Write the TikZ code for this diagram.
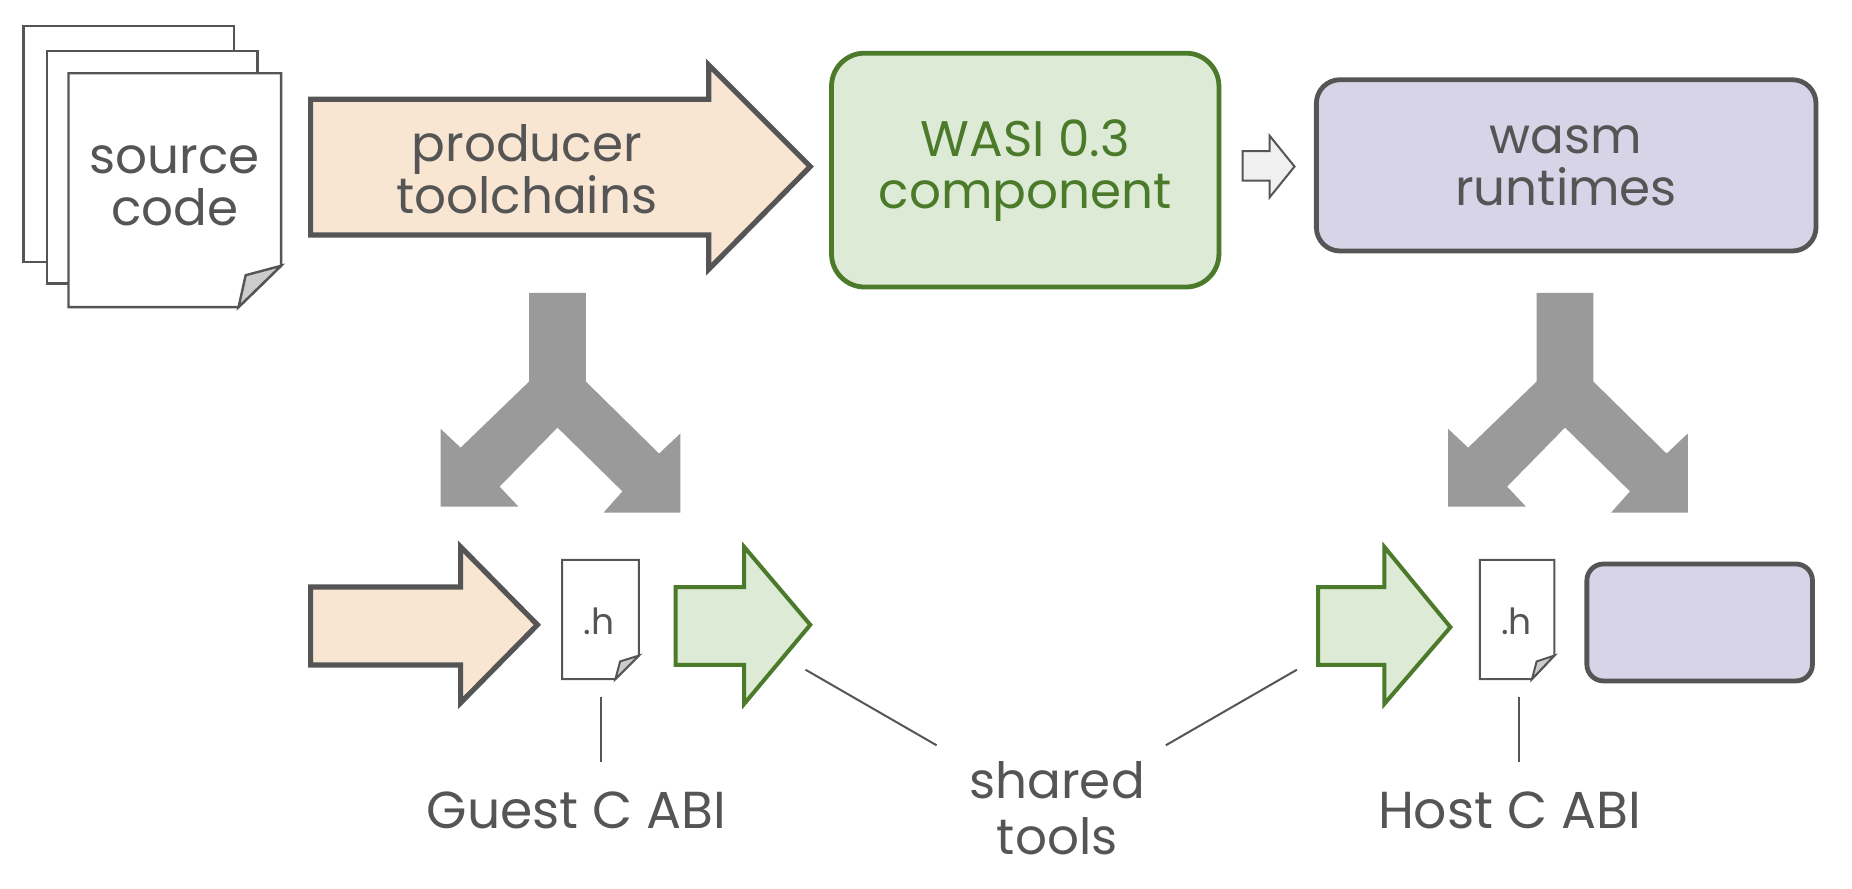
\documentclass[tikz,border=0pt]{standalone}
\usepackage{fontspec}
\setmainfont{Poppins}
\definecolor{txt}{HTML}{555555}
\definecolor{tan}{HTML}{F8E6D2}
\definecolor{gfill}{HTML}{DDEAD6}
\definecolor{gline}{HTML}{4A7A2A}
\definecolor{pfill}{HTML}{D8D4E8}
\definecolor{fork}{HTML}{9A9A9A}
\definecolor{fold}{HTML}{CCCCCC}
\tikzset{
  page/.style={draw=txt,fill=white,line width=1.2pt,line join=miter},
  tanarrow/.style={draw=txt,fill=tan,line width=2.6pt,line join=miter},
  grnarrow/.style={draw=gline,fill=gfill,line width=2pt,line join=miter},
  forkshape/.style={fill=fork},
  lbl/.style={text=txt,font=\fontsize{25}{30}\selectfont,align=center},
  leader/.style={draw=txt,line width=1pt}
}
\begin{document}
\begin{tikzpicture}[x=0.5905pt,y=-0.5905pt]
\useasboundingbox (0,0) rectangle (1568,752);
% source pages
\draw[page] (20,22) rectangle (198,222);
\draw[page] (40,43) rectangle (218,240);
\draw[page] (58,62) -- (238,62) -- (238,225) -- (202,260) -- (58,260) -- cycle;
\draw[page,fill=fold] (238,225) -- (208,233) -- (202,260) -- cycle;
\node[lbl] (src) at (148,157) {source\\[-4pt]code};
% producer arrow
\draw[tanarrow] (263,84) -- (600,84) -- (600,55) -- (686,141) -- (600,228) -- (600,199) -- (263,199) -- cycle;
\node[lbl] (prod) at (446,143) {producer\\[-4pt]toolchains};
% WASI component
\node[draw=gline,fill=gfill,line width=2.4pt,rounded corners=28pt*0.5905,minimum width=328*0.5905pt,minimum height=198*0.5905pt,text=gline,font=\fontsize{25}{30}\selectfont,align=center] (wasi) at (868,144) {WASI 0.3\\[-4pt]component};
% small arrow
\draw[draw=txt,fill=black!6,line width=1pt,line join=miter] (1052,128) -- (1075,128) -- (1075,115) -- (1096,141) -- (1075,167) -- (1075,153) -- (1052,153) -- cycle;
% wasm runtimes
\node[draw=txt,fill=pfill,line width=2.4pt,rounded corners=20pt*0.5905,minimum width=423*0.5905pt,minimum height=145*0.5905pt,lbl] (rt) at (1326,140) {wasm\\[-4pt]runtimes};
% forks
\foreach \dx in {0,853}{
\begin{scope}[xshift=\dx*0.5905pt]
\fill[forkshape] (448,248) -- (496,248) -- (496,323) -- (558,384) -- (576,367) -- (576,434) -- (511,434) -- (527,416) -- (472,362) -- (423,412) -- (439,429) -- (373,429) -- (373,363) -- (390,379) -- (448,323) -- cycle;
\end{scope}}
% bottom left
\draw[tanarrow] (263,497) -- (390,497) -- (390,463) -- (455,529) -- (390,595) -- (390,563) -- (263,563) -- cycle;
\draw[page,line width=1pt] (476,474) -- (541,474) -- (541,555) -- (521,575) -- (476,575) -- cycle;
\draw[page,line width=1pt,fill=fold] (541,555) -- (525,560) -- (521,575) -- cycle;
\node[text=txt,font=\fontsize{18}{20}\selectfont] (h1) at (507,526) {.h};
\draw[grnarrow] (572,497) -- (630,497) -- (630,463) -- (686,529) -- (630,596) -- (630,563) -- (572,563) -- cycle;
\coordinate (h1b) at (509,590); \coordinate (h1c) at (509,645);
\draw[leader] (h1b) -- (h1c);
\node[lbl,font=\fontsize{26}{30}\selectfont] (guest) at (488,686) {Guest C ABI};
% shared tools
\node[lbl] (shared) at (895,684) {shared\\[-2pt]tools};
\coordinate (s1a) at (682,567); \coordinate (s1b) at (793,631);
\coordinate (s2a) at (987,631); \coordinate (s2b) at (1098,567);
\draw[leader] (s1a) -- (s1b);
\draw[leader] (s2a) -- (s2b);
% bottom right
\draw[grnarrow] (1116,497) -- (1172,497) -- (1172,463) -- (1228,531) -- (1172,596) -- (1172,563) -- (1116,563) -- cycle;
\draw[page,line width=1pt] (1253,474) -- (1316,474) -- (1316,555) -- (1297,575) -- (1253,575) -- cycle;
\draw[page,line width=1pt,fill=fold] (1316,555) -- (1301,560) -- (1297,575) -- cycle;
\node[text=txt,font=\fontsize{18}{20}\selectfont] (h2) at (1284,526) {.h};
\node[draw=txt,fill=pfill,line width=2.4pt,rounded corners=14pt*0.5905,minimum width=191*0.5905pt,minimum height=99*0.5905pt] (hostbox) at (1439,527) {};
\coordinate (h2b) at (1286,590); \coordinate (h2c) at (1286,645);
\draw[leader] (h2b) -- (h2c);
\node[lbl,font=\fontsize{26}{30}\selectfont] (host) at (1278,686) {Host C ABI};
\end{tikzpicture}
\end{document}
